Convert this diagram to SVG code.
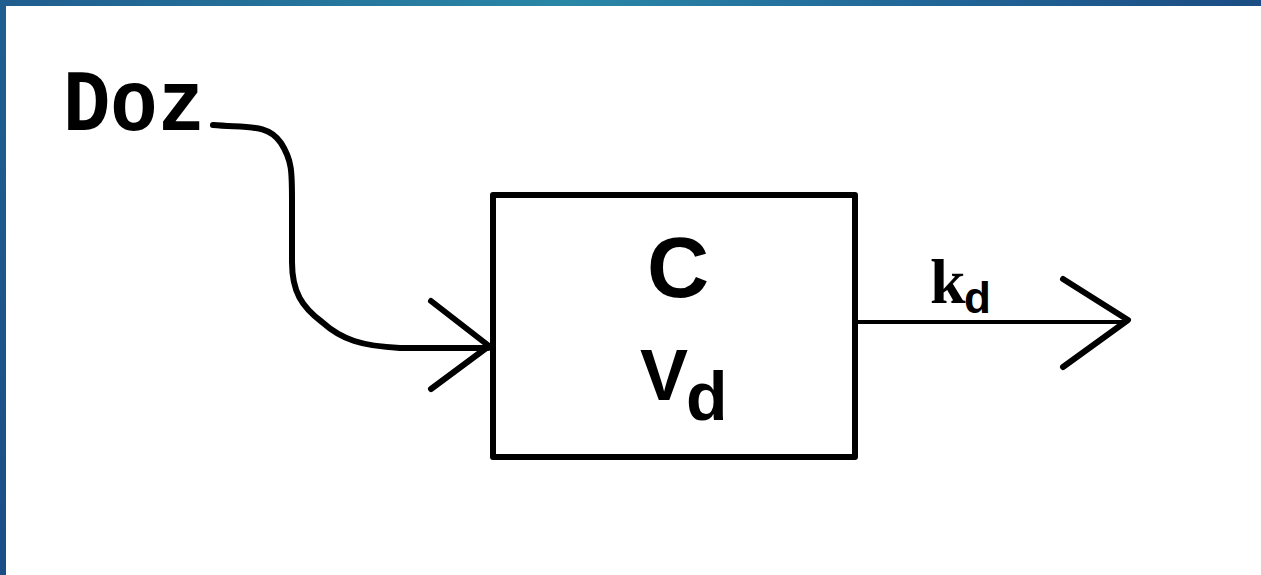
<svg xmlns="http://www.w3.org/2000/svg" width="1261" height="575" viewBox="0 0 1261 575">
  <defs>
    <linearGradient id="topBar" x1="0" y1="0" x2="1" y2="0">
      <stop offset="0" stop-color="#1f5d8e"/>
      <stop offset="0.45" stop-color="#2a87a6"/>
      <stop offset="0.7" stop-color="#22699a"/>
      <stop offset="1" stop-color="#1b4c84"/>
    </linearGradient>
    <linearGradient id="leftBar" x1="0" y1="0" x2="0" y2="1">
      <stop offset="0" stop-color="#1f5f90"/>
      <stop offset="1" stop-color="#1b4d86"/>
    </linearGradient>
    <style>
      .ink { fill: none; stroke: #000; stroke-linecap: round; stroke-linejoin: round; }
      .label { fill: #000; }
    </style>
  </defs>

  <rect x="0" y="0" width="1261" height="575" fill="#fff"/>
  <!-- frame bars -->
  <rect x="0" y="0" width="1261" height="6" fill="url(#topBar)"/>
  <rect x="0" y="0" width="6" height="575" fill="url(#leftBar)"/>

  <!-- source label -->
  <g id="dose">
    <text class="label" x="63" y="130" font-family="Liberation Mono, monospace" font-weight="bold" font-size="88" textLength="142" lengthAdjust="spacingAndGlyphs">Doz</text>
  </g>

  <!-- compartment -->
  <g id="compartment">
    <rect class="ink" x="493" y="195" width="362" height="262" stroke-width="6" stroke-linecap="butt" stroke-linejoin="miter"/>
    <text class="label" x="678" y="297" text-anchor="middle" font-family="Liberation Sans, Arial, sans-serif" font-weight="bold" font-size="86">C</text>
    <text class="label" x="640" y="400" font-family="Liberation Sans, Arial, sans-serif" font-weight="bold" font-size="72">V</text>
    <text class="label" x="686" y="420" font-family="Liberation Sans, Arial, sans-serif" font-weight="bold" font-size="68">d</text>
  </g>

  <!-- elimination label -->
  <g id="elimination">
    <text class="label" x="930" y="303" font-family="Liberation Serif, serif" font-weight="bold" font-size="64">k</text>
    <text class="label" x="964" y="313" font-family="Liberation Sans, Arial, sans-serif" font-weight="bold" font-size="44">d</text>
  </g>

  <!-- connectors -->
  <g id="connectors">
    <path class="ink" stroke-width="6" d="M213,125 C250,128 268,124 281,143 C292,160 292,172 292,200 L292,262 C292,292 302,307 322,322 C342,340 362,346 400,348 L488,348"/>
    <path class="ink" stroke-width="6" d="M431,301 L489,346 L431,389"/>
    <path class="ink" stroke-width="4" d="M858,322 L1126,322"/>
    <path class="ink" stroke-width="6" d="M1063,279 L1128,320 L1063,367"/>
  </g>
</svg>
